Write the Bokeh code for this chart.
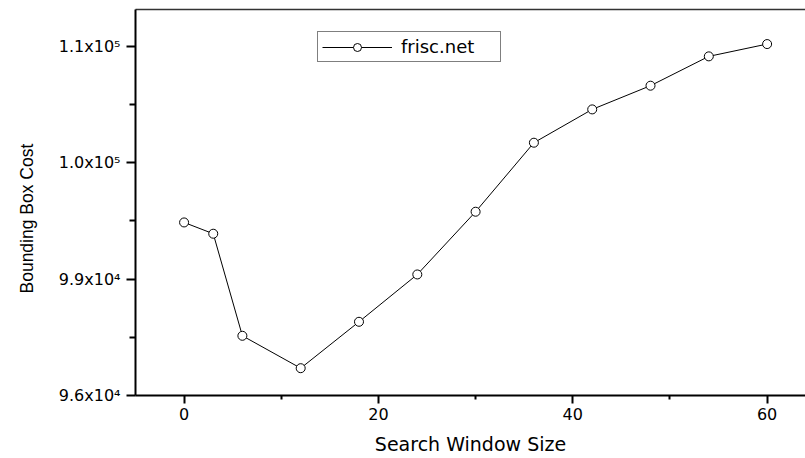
from bokeh.plotting import figure
from bokeh.models import FixedTicker, LinearAxis, Title, Range1d
from bokeh.embed import file_html
from bokeh.resources import INLINE

# ---- data ----
window_size = [0, 3, 6, 12, 18, 24, 30, 36, 42, 48, 54, 60]
bbox_cost = [100461, 100170, 97539, 96704, 97900, 99120, 100737,
             102516, 103375, 103986, 104742, 105059]
series_name = "frisc.net"

x_ticks = [0, 20, 40, 60]
x_minor_ticks = [10, 30, 50]
y_ticks = [96000, 99000, 102000, 105000]
y_tick_labels = ["9.6x10\u2074", "9.9x10\u2074", "1.0x10\u2075", "1.1x10\u2075"]
y_minor_ticks = [97500, 100500, 103500]

x_title = "Search Window Size"
y_title = "Bounding Box Cost"

FONT = "DejaVu Sans"

p = figure(width=805, height=458, output_backend="svg", toolbar_location=None,
           x_range=Range1d(-5, 63.95), y_range=Range1d(96000, 105950),
           min_border_left=135, min_border_right=0, min_border_top=9,
           min_border_bottom=63)
p.background_fill_color = "white"
p.border_fill_color = "white"
p.outline_line_color = None
p.grid.visible = False

# glyphs
p.line(window_size, bbox_cost, line_color="black", line_width=1, legend_label=series_name)
p.scatter(window_size, bbox_cost, marker="circle", size=9, fill_color="white",
          line_color="black", line_width=1, legend_label=series_name)

# x axis
xa = p.xaxis[0]
xa.ticker = FixedTicker(ticks=x_ticks, minor_ticks=x_minor_ticks)
xa.axis_line_width = 2
xa.axis_line_color = "black"
xa.major_tick_line_width = 2
xa.major_tick_in = 0
xa.major_tick_out = 8
xa.minor_tick_line_width = 2
xa.minor_tick_in = 0
xa.minor_tick_out = 4
xa.major_label_text_font = FONT
xa.major_label_text_font_size = "16px"
xa.major_label_text_color = "black"
xa.major_label_standoff = 4
xa.axis_label = x_title
xa.axis_label_text_font = FONT
xa.axis_label_text_font_size = "19px"
xa.axis_label_text_font_style = "normal"
xa.axis_label_text_color = "black"
xa.axis_label_standoff = 10

# y axis
ya = p.yaxis[0]
ya.ticker = FixedTicker(ticks=y_ticks, minor_ticks=y_minor_ticks)
ya.major_label_overrides = {t: lab for t, lab in zip(y_ticks, y_tick_labels)}
ya.axis_line_width = 2
ya.axis_line_color = "black"
ya.major_tick_line_width = 2
ya.major_tick_in = 0
ya.major_tick_out = 9
ya.minor_tick_line_width = 2
ya.minor_tick_in = 0
ya.minor_tick_out = 6
ya.major_label_text_font = FONT
ya.major_label_text_font_size = "16px"
ya.major_label_text_color = "black"
ya.major_label_standoff = 6

# top frame line
top = LinearAxis(ticker=FixedTicker(ticks=[]), major_label_text_font_size="0px",
                 major_tick_out=0, minor_tick_out=0, major_label_standoff=0,
                 axis_line_width=1.5, axis_line_color="#333333")
p.add_layout(top, "above")

# y axis title
p.add_layout(Title(text=y_title, align="left", offset=102, vertical_align="top",
                   standoff=33, text_font="Liberation Sans", text_font_size="17.5px",
                   text_font_style="normal", text_color="black"), "left")

# legend
lg = p.legend[0]
lg.location = (182, 333)
lg.padding = 4
lg.spacing = 0
lg.glyph_width = 70
lg.glyph_height = 20
lg.label_height = 20
lg.label_width = 95
lg.label_standoff = 9
lg.label_text_font = FONT
lg.label_text_font_size = "18px"
lg.label_text_color = "black"
lg.border_line_color = "black"
lg.border_line_width = 1
lg.background_fill_color = "white"
lg.background_fill_alpha = 1

open("out.html", "w").write(file_html(p, INLINE))
